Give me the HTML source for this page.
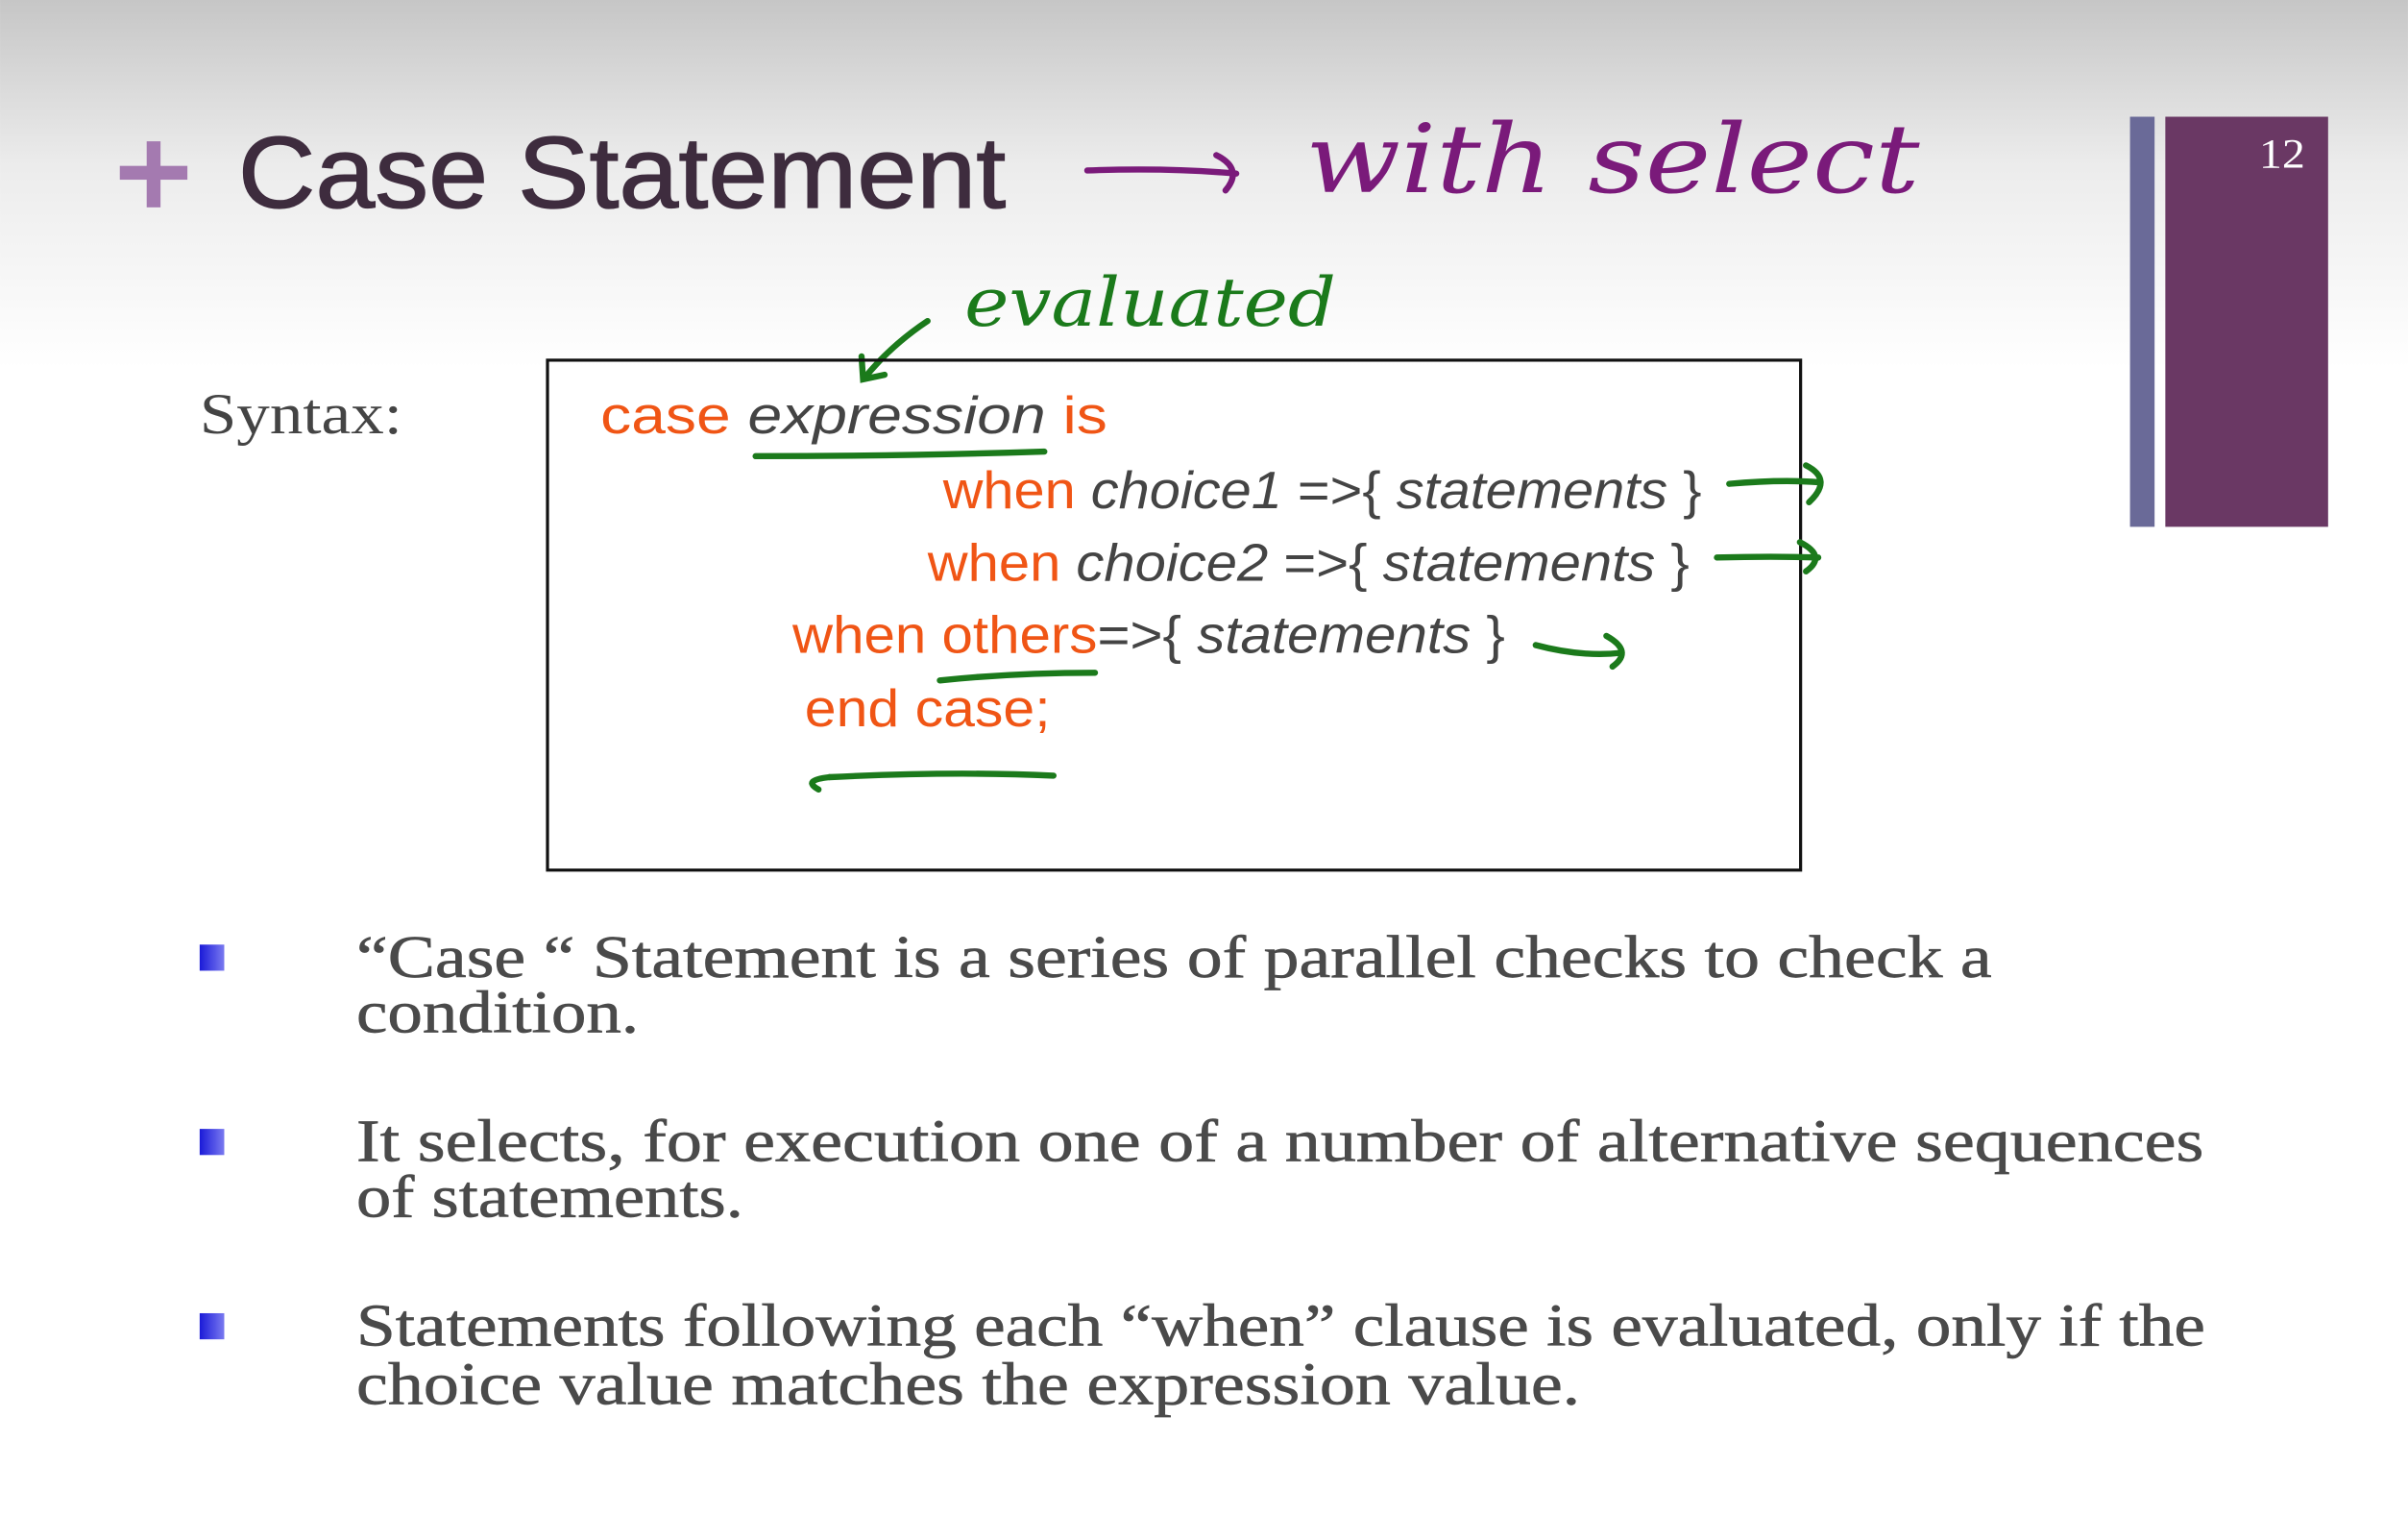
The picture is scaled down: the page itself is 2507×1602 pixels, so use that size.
<!DOCTYPE html>
<html><head><meta charset="utf-8"><style>
html,body{margin:0;padding:0;background:#fff;}
svg{display:block;}
</style></head><body>
<svg width="2507" height="1602" viewBox="0 0 1568 1002" xmlns="http://www.w3.org/2000/svg">
<defs>
<linearGradient id="bg" x1="0" y1="0" x2="0" y2="1">
<stop offset="0" stop-color="#c6c6c6"/><stop offset="0.45" stop-color="#ececec"/><stop offset="1" stop-color="#ffffff"/>
</linearGradient>
<linearGradient id="bl" x1="0" y1="0" x2="1" y2="0">
<stop offset="0" stop-color="#1a1ad8"/><stop offset="1" stop-color="#7a7af0"/>
</linearGradient>
</defs>
<rect width="1568" height="1002" fill="#fff"/>
<rect width="1568" height="240" fill="url(#bg)"/>
<rect x="1387" y="76" width="16" height="267" fill="#6a6a98"/>
<rect x="1410" y="76" width="106" height="267" fill="#6a3864"/>
<text x="1471" y="109" font-family="Liberation Serif, serif" font-size="27" fill="#fff" textLength="30" lengthAdjust="spacingAndGlyphs">12</text>
<!-- plus -->
<rect x="78" y="108" width="44" height="9" fill="#a47ab0"/>
<rect x="95.5" y="92" width="9" height="43" fill="#a47ab0"/>
<text x="155" y="135" font-family="Liberation Sans, sans-serif" font-size="66" fill="#3e2c3e" stroke="#3e2c3e" stroke-width="0.8" textLength="500" lengthAdjust="spacingAndGlyphs">Case  Statement</text>
<g fill="none" stroke="#7a1a7a" stroke-width="4" stroke-linecap="round">
<path d="M708 111 Q760 109 805 113"/><path d="M792 101 Q810 110 798 124"/>
</g>
<text x="850" y="125" font-family="DejaVu Serif, serif" font-style="italic" font-size="62" fill="#7a1a7a" textLength="400" lengthAdjust="spacingAndGlyphs">with  select</text>
<text x="628" y="212" font-family="DejaVu Serif, serif" font-style="italic" font-size="44" fill="#1b7a1b" textLength="242" lengthAdjust="spacingAndGlyphs">evaluated</text>
<g fill="none" stroke="#1b7a1b" stroke-width="4" stroke-linecap="round">
<path d="M604 209 Q580 225 563 246"/><path d="M561 232 L562 247 L576 244"/>
</g>
<text x="130" y="282" font-family="Liberation Serif, serif" font-size="38" fill="#444" textLength="132" lengthAdjust="spacingAndGlyphs">Syntax:</text>
<rect x="356.5" y="234.5" width="816" height="332" fill="none" stroke="#111" stroke-width="2"/>
<g font-family="Liberation Sans, sans-serif" font-size="34">
<text x="391" y="282" textLength="330" lengthAdjust="spacingAndGlyphs"><tspan fill="#f05515">case </tspan><tspan fill="#444" font-style="italic">expression</tspan><tspan fill="#f05515"> is</tspan></text>
<text x="614" y="331" textLength="494" lengthAdjust="spacingAndGlyphs"><tspan fill="#f05515">when </tspan><tspan fill="#444" font-style="italic">choice1 </tspan><tspan fill="#444">=&gt;{ </tspan><tspan fill="#444" font-style="italic">statements </tspan><tspan fill="#444">}</tspan></text>
<text x="604" y="378" textLength="496" lengthAdjust="spacingAndGlyphs"><tspan fill="#f05515">when </tspan><tspan fill="#444" font-style="italic">choice2 </tspan><tspan fill="#444">=&gt;{ </tspan><tspan fill="#444" font-style="italic">statements </tspan><tspan fill="#444">}</tspan></text>
<text x="516" y="425" textLength="464" lengthAdjust="spacingAndGlyphs"><tspan fill="#f05515">when others</tspan><tspan fill="#444">=&gt;{ </tspan><tspan fill="#444" font-style="italic">statements </tspan><tspan fill="#444">}</tspan></text>
<text x="524" y="473" fill="#f05515" textLength="160" lengthAdjust="spacingAndGlyphs">end case;</text>
</g>
<g fill="none" stroke="#1b7a1b" stroke-width="4" stroke-linecap="round">
<path d="M680 294 Q590 297 492 297"/>
<path d="M1126 315 Q1160 312 1185 314"/><path d="M1176 303 Q1194 312 1178 327"/>
<path d="M1118 363 Q1155 362 1184 363"/><path d="M1172 353 Q1190 362 1176 372"/>
<path d="M1000 420 Q1030 428 1056 425"/><path d="M1046 414 Q1064 424 1050 434"/>
<path d="M612 443 Q660 438 713 438"/>
<path d="M686 505 Q620 502 540 506"/><path d="M540 506 Q522 508 533 514"/>
</g>
<g fill="url(#bl)">
<rect x="130" y="615" width="16" height="17"/>
<rect x="130" y="735" width="16" height="17"/>
<rect x="130" y="855" width="16" height="17"/>
</g>
<g font-family="Liberation Serif, serif" font-size="39" fill="#4a4a4a" stroke="#4a4a4a" stroke-width="0.4">
<text x="232" y="636" textLength="1065" lengthAdjust="spacingAndGlyphs">“Case “ Statement is a series of parallel checks to check a</text>
<text x="232" y="672" textLength="184" lengthAdjust="spacingAndGlyphs">condition.</text>
<text x="232" y="756" textLength="1203" lengthAdjust="spacingAndGlyphs">It selects, for execution one of a number of alternative sequences</text>
<text x="232" y="792" textLength="252" lengthAdjust="spacingAndGlyphs">of statements.</text>
<text x="232" y="876" textLength="1204" lengthAdjust="spacingAndGlyphs">Statements following each “when” clause is evaluated, only if the</text>
<text x="232" y="914" textLength="797" lengthAdjust="spacingAndGlyphs">choice value matches the expression value.</text>
</g>
</svg>
</body></html>
